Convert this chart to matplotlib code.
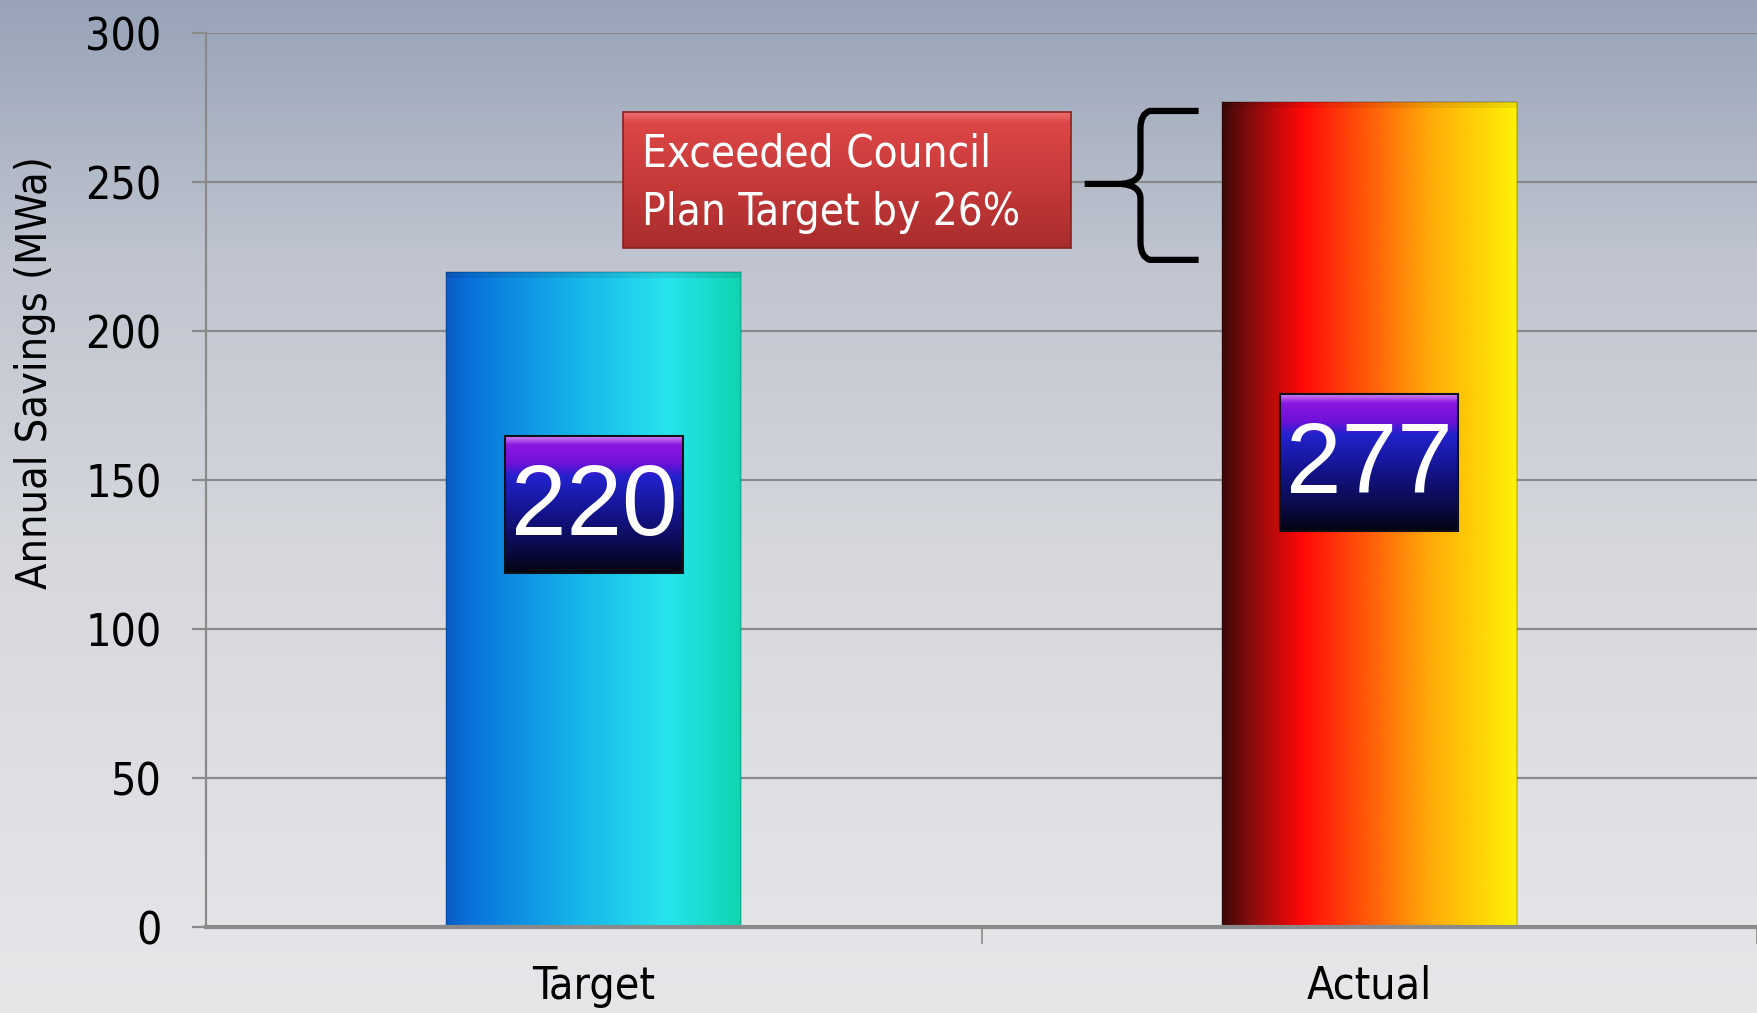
import numpy as np
import matplotlib
matplotlib.use("Agg")
import matplotlib.pyplot as plt
from matplotlib.colors import LinearSegmentedColormap
from matplotlib.patches import Rectangle
from matplotlib.path import Path
from matplotlib.patches import PathPatch
from matplotlib import font_manager

# ---- data ----
categories = ["Target", "Actual"]
values = [220, 277]
value_labels = ["220", "277"]
yticks = [0, 50, 100, 150, 200, 250, 300]
ylabel = "Annual Savings (MWa)"
callout_lines = ["Exceeded Council", "Plan Target by 26%"]

names = {f.name for f in font_manager.fontManager.ttflist}
if "Liberation Sans Narrow" in names:
    NARROW = dict(family=["Liberation Sans Narrow", "DejaVu Sans"])
else:
    NARROW = dict(family=["DejaVu Sans"], fontstretch="condensed")
REG = ["Liberation Sans", "DejaVu Sans"]

W, H = 1757, 1013
fig = plt.figure(figsize=(W / 100, H / 100), dpi=100)

# background gradient
bg = fig.add_axes([0, 0, 1, 1], zorder=-10)
bg_cmap = LinearSegmentedColormap.from_list(
    "bg", [(0, "#e6e7e9"), (0.45, "#d6d8dd"), (0.75, "#bfc4cf"), (1.0, "#98a3b8")])
bg.imshow(np.linspace(0, 1, 256).reshape(-1, 1), cmap=bg_cmap, aspect="auto",
          extent=[0, 1, 0, 1], origin="lower")
bg.set_axis_off()

ax = fig.add_axes([206 / W, 1 - 927 / H, 1 - 206 / W, (927 - 33.5) / H])
ax.patch.set_alpha(0)
x = np.arange(len(categories))
ax.set_xlim(-0.5, len(categories) - 0.5)
ax.set_ylim(0, 300)

# grid
ax.set_yticks(yticks)
for yv in yticks[1:]:
    ax.axhline(yv, color="#8a8a8a", lw=1.6, zorder=1)

bars = ax.bar(x, values, width=0.38, color="none", edgecolor="none", zorder=3)

grad_maps = [
    LinearSegmentedColormap.from_list("t", [(0, "#0a5cc4"), (0.08, "#0872dc"),
                                            (0.45, "#16b6ea"), (0.75, "#28e4ee"),
                                            (1.0, "#10d4b0")]),
    LinearSegmentedColormap.from_list("a", [(0, "#3a0808"), (0.1, "#8a0c0c"),
                                            (0.27, "#ff0808"), (0.45, "#ff4a08"),
                                            (0.7, "#ffa808"), (1.0, "#fff208")]),
]
for b, cm in zip(bars, grad_maps):
    x0, w, h = b.get_x(), b.get_width(), b.get_height()
    im = ax.imshow(np.linspace(0, 1, 256).reshape(1, -1), cmap=cm, aspect="auto",
                   extent=[x0, x0 + w, 0, h], zorder=3, interpolation="bilinear")
    clip = Rectangle((x0, 0), w, h, transform=ax.transData)
    im.set_clip_path(clip)
    ax.add_patch(Rectangle((x0, h - 2), w, 2, facecolor="black", alpha=0.08,
                           edgecolor="none", zorder=4))
    ax.add_patch(Rectangle((x0, 0), w, h, facecolor="none", edgecolor="#00000030",
                           lw=1.2, zorder=4))

# value label boxes
box_cmap = LinearSegmentedColormap.from_list(
    "box", [(0, "#050510"), (0.12, "#080838"), (0.45, "#141490"), (0.7, "#2222cc"),
            (0.8, "#7010d8"), (0.93, "#8a18e0"), (1.0, "#d890f8")])
box_centers = [142, 156]
box_halfw, box_halfh = 0.115, 23
for xi, yc, lab in zip(x, box_centers, value_labels):
    ax.imshow(np.linspace(0, 1, 256).reshape(-1, 1), cmap=box_cmap, aspect="auto",
              extent=[xi - box_halfw, xi + box_halfw, yc - box_halfh, yc + box_halfh],
              origin="lower", zorder=6)
    ax.add_patch(Rectangle((xi - box_halfw, yc - box_halfh), 2 * box_halfw, 2 * box_halfh,
                           facecolor="none", edgecolor="#101018", lw=1.5, zorder=7))
    ax.text(xi, yc - 1.5, lab, color="white", fontsize=72, family=REG,
            ha="center", va="center", zorder=8)

# callout box
cx0, cx1, cy0, cy1 = 0.038, 0.615, 228, 273.5
red_cmap = LinearSegmentedColormap.from_list(
    "red", [(0, "#a82c2c"), (0.5, "#c83a3a"), (0.92, "#dc4646"), (1.0, "#f07070")])
ax.imshow(np.linspace(0, 1, 256).reshape(-1, 1), cmap=red_cmap, aspect="auto",
          extent=[cx0, cx1, cy0, cy1], origin="lower", zorder=6)
ax.add_patch(Rectangle((cx0, cy0), cx1 - cx0, cy1 - cy0, facecolor="none",
                       edgecolor="#8a2020", lw=1.2, zorder=7))
ax.text(cx0 + 0.024, 259.5, callout_lines[0], color="white", fontsize=31.5,
        ha="left", va="center", zorder=8, **NARROW)
ax.text(cx0 + 0.024, 240, callout_lines[1], color="white", fontsize=31.5,
        ha="left", va="center", zorder=8, **NARROW)

# curly brace
bx_tip, bx_mid, bx_end = 0.633, 0.705, 0.780
by_top, by_mid, by_bot = 274, 249.5, 224
verts = [
    (bx_end, by_top), (bx_mid + 0.012, by_top), (bx_mid, by_top - 1), (bx_mid, by_top - 6),
    (bx_mid, by_mid + 5), (bx_mid, by_mid + 0.5), (bx_mid - 0.025, by_mid), (bx_tip, by_mid),
    (bx_mid - 0.025, by_mid), (bx_mid, by_mid - 0.5), (bx_mid, by_mid - 5),
    (bx_mid, by_bot + 6), (bx_mid, by_bot + 1), (bx_mid + 0.012, by_bot), (bx_end, by_bot),
]
codes = [Path.MOVETO, Path.LINETO, Path.CURVE3, Path.CURVE3,
         Path.LINETO, Path.CURVE3, Path.CURVE3, Path.LINETO,
         Path.MOVETO, Path.CURVE3, Path.CURVE3,
         Path.LINETO, Path.CURVE3, Path.CURVE3, Path.LINETO]
ax.add_patch(PathPatch(Path(verts, codes), facecolor="none", edgecolor="black",
                       lw=4.5, capstyle="butt", zorder=8, clip_on=False))

# axes styling
for s in ["top", "right"]:
    ax.spines[s].set_visible(False)
ax.spines["left"].set_color("#8a8a8a")
ax.spines["left"].set_linewidth(1.6)
ax.spines["bottom"].set_color("#8a8a8a")
ax.spines["bottom"].set_linewidth(3)
ax.spines["bottom"].set_zorder(5)

ax.set_yticklabels([str(v) for v in yticks], fontsize=32, **NARROW)
ax.tick_params(axis="y", length=10, width=1.6, color="#8a8a8a", pad=22)
ax.set_xticks(x)
ax.set_xticklabels(categories, fontsize=32, **NARROW)
ax.tick_params(axis="x", which="major", length=0, pad=27)
ax.set_xticks([0.5, 1.5], minor=True)
ax.tick_params(axis="x", which="minor", length=12, width=1.2, color="#8a8a8a")
ax.set_ylabel(ylabel, fontsize=31, **NARROW)
ax.yaxis.set_label_coords(-0.097, 0.621)

fig.savefig("out.png", dpi=100)
